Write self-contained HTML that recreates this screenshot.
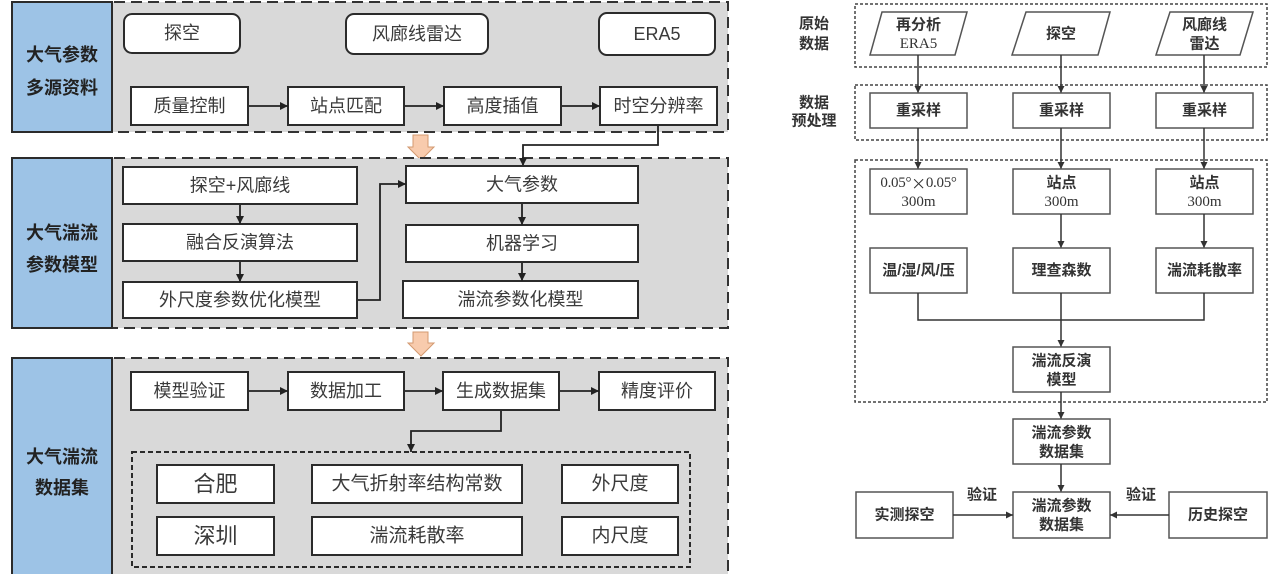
<!DOCTYPE html>
<html>
<head>
<meta charset="utf-8">
<style>
html,body{margin:0;padding:0;background:#fff;}
svg{display:block;}
text{font-family:"Liberation Sans","Noto Sans CJK SC",sans-serif;}
.t{font-size:18px;fill:#3a3a3a;text-anchor:middle;dominant-baseline:central;}
.sec{font-size:18px;font-weight:bold;fill:#222;text-anchor:middle;dominant-baseline:central;}
.r{font-size:15px;font-weight:bold;fill:#333;text-anchor:middle;dominant-baseline:central;}
.rs{font-size:15px;fill:#333;text-anchor:middle;dominant-baseline:central;font-family:"Liberation Serif","Noto Serif CJK SC",serif;}
.box{fill:#fff;stroke:#2b2b2b;stroke-width:2;}
.rbox{fill:#fff;stroke:#555;stroke-width:1.5;}
.ln{fill:none;stroke:#222;stroke-width:1.8;}
.rln{fill:none;stroke:#333;stroke-width:1.5;}
</style>
</head>
<body>
<svg width="1280" height="581" viewBox="0 0 1280 581" xmlns="http://www.w3.org/2000/svg">
<defs>
<marker id="ah" viewBox="0 0 10 10" refX="10" refY="5" markerWidth="8" markerHeight="8" markerUnits="userSpaceOnUse" orient="auto">
<path d="M0,0 L10,5 L0,10 z" fill="#222"/>
</marker>
<marker id="ar" viewBox="0 0 10 10" refX="10" refY="5" markerWidth="7" markerHeight="7" markerUnits="userSpaceOnUse" orient="auto">
<path d="M0,0 L10,5 L0,10 z" fill="#333"/>
</marker>
</defs>

<!-- ===== LEFT: Section 1 ===== -->
<rect x="12" y="2" width="716" height="130" fill="#d9d9d9" stroke="#333" stroke-width="2" stroke-dasharray="11,6"/>
<rect x="12" y="2" width="100" height="130" fill="#9dc3e6" stroke="#2b2b2b" stroke-width="2"/>
<text class="sec" x="62" y="55">大气参数</text>
<text class="sec" x="62" y="88">多源资料</text>

<rect class="box" x="124" y="14" width="116" height="39" rx="8"/>
<text class="t" x="182" y="33">探空</text>
<rect class="box" x="346" y="14" width="142" height="40" rx="8"/>
<text class="t" x="417" y="34">风廊线雷达</text>
<rect class="box" x="599" y="13" width="116" height="42" rx="8"/>
<text class="t" x="657" y="34">ERA5</text>

<rect class="box" x="131" y="87" width="117" height="38"/>
<text class="t" x="189.5" y="106">质量控制</text>
<rect class="box" x="288" y="87" width="116" height="38"/>
<text class="t" x="346" y="106">站点匹配</text>
<rect class="box" x="444" y="87" width="117" height="38"/>
<text class="t" x="502.5" y="106">高度插值</text>
<rect class="box" x="600" y="87" width="117" height="38"/>
<text class="t" x="658.5" y="106">时空分辨率</text>
<line class="ln" x1="249" y1="106" x2="288" y2="106" marker-end="url(#ah)"/>
<line class="ln" x1="405" y1="106" x2="444" y2="106" marker-end="url(#ah)"/>
<line class="ln" x1="562" y1="106" x2="600" y2="106" marker-end="url(#ah)"/>

<!-- orange arrow 1 -->
<polygon points="413,135 428,135 428,147 434,147 421,160 408,147 413,147" fill="#f8cbad" stroke="#d39a70" stroke-width="1"/>

<!-- ===== Section 2 ===== -->
<rect x="12" y="158" width="716" height="170" fill="#d9d9d9" stroke="#333" stroke-width="2" stroke-dasharray="11,6"/>
<rect x="12" y="158" width="100" height="170" fill="#9dc3e6" stroke="#2b2b2b" stroke-width="2"/>
<text class="sec" x="62" y="233">大气湍流</text>
<text class="sec" x="62" y="265">参数模型</text>

<polyline class="ln" points="658,126 658,145 523,145 523,166" marker-end="url(#ah)"/>

<rect class="box" x="123" y="167" width="234" height="37"/>
<text class="t" x="240" y="185.5">探空+风廊线</text>
<rect class="box" x="123" y="224" width="234" height="37"/>
<text class="t" x="240" y="242.5">融合反演算法</text>
<rect class="box" x="123" y="282" width="234" height="36"/>
<text class="t" x="240" y="300">外尺度参数优化模型</text>
<line class="ln" x1="240" y1="205" x2="240" y2="224" marker-end="url(#ah)"/>
<line class="ln" x1="240" y1="262" x2="240" y2="282" marker-end="url(#ah)"/>

<rect class="box" x="406" y="166" width="232" height="37"/>
<text class="t" x="522" y="184.5">大气参数</text>
<rect class="box" x="406" y="225" width="232" height="37"/>
<text class="t" x="522" y="243.5">机器学习</text>
<rect class="box" x="403" y="281" width="235" height="37"/>
<text class="t" x="520.5" y="299.5">湍流参数化模型</text>
<line class="ln" x1="522" y1="204" x2="522" y2="225" marker-end="url(#ah)"/>
<line class="ln" x1="522" y1="263" x2="522" y2="281" marker-end="url(#ah)"/>

<polyline class="ln" points="358,300 380,300 380,184 406,184" marker-end="url(#ah)"/>

<!-- orange arrow 2 -->
<polygon points="413,332 428,332 428,343 434,343 421,356 408,343 413,343" fill="#f8cbad" stroke="#d39a70" stroke-width="1"/>

<!-- ===== Section 3 ===== -->
<rect x="12" y="358" width="716" height="216" fill="#d9d9d9"/>
<path d="M12,358 H728 V574" fill="none" stroke="#333" stroke-width="2" stroke-dasharray="11,6"/>
<rect x="12" y="358" width="100" height="216" fill="#9dc3e6"/>
<path d="M12,574 V358 H112 V574" fill="none" stroke="#2b2b2b" stroke-width="2"/>
<text class="sec" x="62" y="457">大气湍流</text>
<text class="sec" x="62" y="488">数据集</text>

<rect class="box" x="131" y="372" width="117" height="38"/>
<text class="t" x="189.5" y="391">模型验证</text>
<rect class="box" x="288" y="372" width="116" height="38"/>
<text class="t" x="346" y="391">数据加工</text>
<rect class="box" x="443" y="372" width="116" height="38"/>
<text class="t" x="501" y="391">生成数据集</text>
<rect class="box" x="599" y="372" width="116" height="38"/>
<text class="t" x="657" y="391">精度评价</text>
<line class="ln" x1="249" y1="391" x2="288" y2="391" marker-end="url(#ah)"/>
<line class="ln" x1="405" y1="391" x2="443" y2="391" marker-end="url(#ah)"/>
<line class="ln" x1="560" y1="391" x2="599" y2="391" marker-end="url(#ah)"/>

<polyline class="ln" points="501,411 501,431 411,431 411,452" marker-end="url(#ah)"/>

<rect x="132" y="452" width="558" height="115" fill="none" stroke="#2b2b2b" stroke-width="2" stroke-dasharray="5,3"/>

<rect class="box" x="157" y="465" width="117" height="38"/>
<text class="t" x="215.5" y="484" style="font-size:22px">合肥</text>
<rect class="box" x="157" y="517" width="117" height="38"/>
<text class="t" x="215.5" y="536" style="font-size:22px">深圳</text>
<rect class="box" x="312" y="465" width="210" height="38"/>
<text class="t" x="417" y="484" style="font-size:19px">大气折射率结构常数</text>
<rect class="box" x="312" y="517" width="210" height="38"/>
<text class="t" x="417" y="536" style="font-size:19px">湍流耗散率</text>
<rect class="box" x="562" y="465" width="116" height="38"/>
<text class="t" x="620" y="484" style="font-size:19px">外尺度</text>
<rect class="box" x="562" y="517" width="116" height="38"/>
<text class="t" x="620" y="536" style="font-size:19px">内尺度</text>

<!-- ===== RIGHT DIAGRAM ===== -->
<text class="r" x="814" y="24">原始</text>
<text class="r" x="814" y="44">数据</text>
<text class="r" x="814" y="103">数据</text>
<text class="r" x="814" y="121">预处理</text>

<rect x="855" y="4" width="412" height="63" fill="none" stroke="#444" stroke-width="1.5" stroke-dasharray="3,2"/>
<rect x="855" y="85" width="412" height="55" fill="none" stroke="#444" stroke-width="1.5" stroke-dasharray="3,2"/>
<rect x="855" y="160" width="412" height="242" fill="none" stroke="#444" stroke-width="1.5" stroke-dasharray="3,2"/>

<polygon class="rbox" points="882,12 967,12 955,55 870,55"/>
<text class="r" x="918.5" y="25">再分析</text>
<text class="rs" x="918.5" y="44">ERA5</text>
<polygon class="rbox" points="1026,12 1110,12 1098,55 1012,55"/>
<text class="r" x="1061" y="34">探空</text>
<polygon class="rbox" points="1170,12 1253,12 1240,55 1156,55"/>
<text class="r" x="1204.5" y="25">风廊线</text>
<text class="r" x="1204.5" y="44">雷达</text>

<line class="rln" x1="918" y1="55" x2="918" y2="93" marker-end="url(#ar)"/>
<line class="rln" x1="1061" y1="55" x2="1061" y2="93" marker-end="url(#ar)"/>
<line class="rln" x1="1204" y1="55" x2="1204" y2="93" marker-end="url(#ar)"/>

<rect class="rbox" x="870" y="93" width="97" height="35"/>
<text class="r" x="918.5" y="110.5">重采样</text>
<rect class="rbox" x="1013" y="93" width="97" height="35"/>
<text class="r" x="1061.5" y="110.5">重采样</text>
<rect class="rbox" x="1156" y="93" width="97" height="35"/>
<text class="r" x="1204.5" y="110.5">重采样</text>

<line class="rln" x1="918" y1="128" x2="918" y2="169" marker-end="url(#ar)"/>
<line class="rln" x1="1061" y1="128" x2="1061" y2="169" marker-end="url(#ar)"/>
<line class="rln" x1="1204" y1="128" x2="1204" y2="169" marker-end="url(#ar)"/>

<rect class="rbox" x="870" y="169" width="97" height="45"/>
<text class="rs" x="918.5" y="183" style="letter-spacing:-0.3px">0.05°<tspan style="font-family:'Noto Sans CJK SC',sans-serif">×</tspan>0.05°</text>
<text class="rs" x="918.5" y="202">300m</text>
<rect class="rbox" x="1013" y="169" width="97" height="45"/>
<text class="r" x="1061.5" y="183">站点</text>
<text class="rs" x="1061.5" y="202">300m</text>
<rect class="rbox" x="1156" y="169" width="97" height="45"/>
<text class="r" x="1204.5" y="183">站点</text>
<text class="rs" x="1204.5" y="202">300m</text>

<line class="rln" x1="1061" y1="214" x2="1061" y2="248" marker-end="url(#ar)"/>
<line class="rln" x1="1204" y1="214" x2="1204" y2="248" marker-end="url(#ar)"/>

<rect class="rbox" x="870" y="248" width="97" height="45"/>
<text class="r" x="918.5" y="270.5">温/湿/风/压</text>
<rect class="rbox" x="1013" y="248" width="97" height="45"/>
<text class="r" x="1061.5" y="270.5">理查森数</text>
<rect class="rbox" x="1156" y="248" width="97" height="45"/>
<text class="r" x="1204.5" y="270.5">湍流耗散率</text>

<polyline class="rln" points="918,293 918,320 1204,320 1204,293"/>
<line class="rln" x1="1061" y1="293" x2="1061" y2="347" marker-end="url(#ar)"/>

<rect class="rbox" x="1013" y="347" width="97" height="45"/>
<text class="r" x="1061.5" y="361">湍流反演</text>
<text class="r" x="1061.5" y="380">模型</text>

<line class="rln" x1="1061" y1="392" x2="1061" y2="419" marker-end="url(#ar)"/>
<rect class="rbox" x="1013" y="419" width="97" height="45"/>
<text class="r" x="1061.5" y="433">湍流参数</text>
<text class="r" x="1061.5" y="452">数据集</text>

<line class="rln" x1="1061" y1="464" x2="1061" y2="492" marker-end="url(#ar)"/>
<rect class="rbox" x="1013" y="492" width="97" height="46"/>
<text class="r" x="1061.5" y="506">湍流参数</text>
<text class="r" x="1061.5" y="525">数据集</text>

<rect class="rbox" x="856" y="492" width="97" height="46"/>
<text class="r" x="904.5" y="515">实测探空</text>
<rect class="rbox" x="1169" y="492" width="98" height="46"/>
<text class="r" x="1218" y="515">历史探空</text>

<line class="rln" x1="953" y1="515" x2="1013" y2="515" marker-end="url(#ar)"/>
<line class="rln" x1="1169" y1="515" x2="1110" y2="515" marker-end="url(#ar)"/>
<text class="r" x="982" y="495">验证</text>
<text class="r" x="1141" y="495">验证</text>
</svg>
</body>
</html>
